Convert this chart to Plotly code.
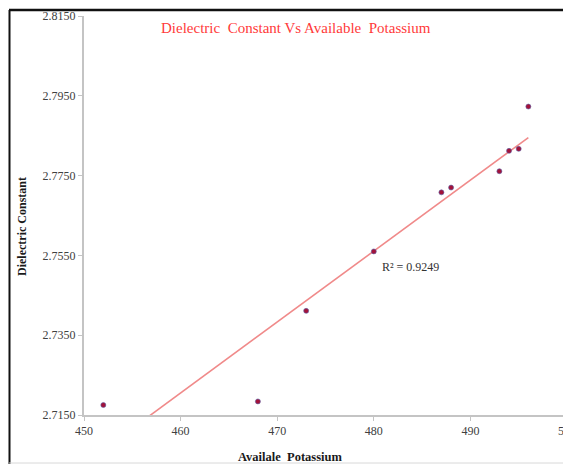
import numpy as np
import plotly.graph_objects as go

# Data
potassium = [452, 468, 473, 480, 487, 488, 493, 494, 495, 496]
dielectric = [2.7175, 2.7184, 2.7411, 2.7560, 2.7708, 2.7720, 2.7761, 2.7812, 2.7817, 2.7923]
x_ticks = [450, 460, 470, 480, 490, 500]
y_ticks = [2.7150, 2.7350, 2.7550, 2.7750, 2.7950, 2.8150]
title_text = "Dielectric\u00a0 Constant Vs Available\u00a0 Potassium"
x_title = "Availale\u00a0 Potassium"
y_title = "Dielectric Constant"
r2_label = "R² = 0.9249"

# Linear trendline (least squares fit of the data)
slope, intercept = np.polyfit(potassium, dielectric, 1)
tx = [min(potassium), max(potassium)]
ty = [slope * v + intercept for v in tx]

# The page body has an 8px margin, so the figure starts at (8, 8) in the window
OFF = 8
W, H = 571 - OFF, 466 - OFF
ml, mr, mt, mb = 84 - OFF, 4, 16 - OFF, 51
pw, ph = W - ml - mr, H - mt - mb

def px2paper_x(px):  # px in window coordinates
    return (px - OFF - ml) / pw

def px2paper_y(py):
    return (H - mb - (py - OFF)) / ph

serif = "Liberation Serif, Times New Roman, serif"

fig = go.Figure()
fig.add_trace(go.Scatter(
    x=tx, y=ty, mode="lines",
    line=dict(color="#f08a8a", width=1.6),
    hoverinfo="skip", showlegend=False,
))
fig.add_trace(go.Scatter(
    x=potassium, y=dielectric, mode="markers",
    marker=dict(size=5, color="#a3123a", line=dict(color="#5a63a8", width=0.6)),
    showlegend=False,
))

axis_common = dict(
    showgrid=False, zeroline=False,
    showline=True, linecolor="#c4c4c4", linewidth=2,
    ticks="outside", ticklen=4, tickcolor="#c4c4c4", tickwidth=1,
    tickfont=dict(family=serif, size=12, color="#404040"),
    ticklabeloverflow="allow", automargin=False,
)

fig.update_layout(
    width=W, height=H,
    margin=dict(l=ml, r=mr, t=mt, b=mb, pad=0, autoexpand=False),
    paper_bgcolor="white", plot_bgcolor="white",
    xaxis=dict(range=[450, 500], tickvals=x_ticks,
               ticktext=[str(v) for v in x_ticks], **axis_common),
    yaxis=dict(range=[2.7150, 2.8150], tickvals=y_ticks,
               ticktext=[f"{v:.4f}" for v in y_ticks], **axis_common),
    showlegend=False,
)

fig.add_annotation(
    text=title_text, xref="paper", yref="paper",
    x=px2paper_x(296), y=px2paper_y(28), xanchor="center", yanchor="middle",
    showarrow=False, font=dict(family=serif, size=15, color="#ff3a3a"),
)
fig.add_annotation(
    text=f"<b>{y_title}</b>", xref="paper", yref="paper",
    x=px2paper_x(22), y=px2paper_y(226), xanchor="center", yanchor="middle",
    textangle=-90, showarrow=False, font=dict(family=serif, size=12, color="#1a1a1a"),
)
fig.add_annotation(
    text=f"<b>{x_title}</b>", xref="paper", yref="paper",
    x=px2paper_x(290), y=px2paper_y(457), xanchor="center", yanchor="middle",
    showarrow=False, font=dict(family=serif, size=12.5, color="#1a1a1a"),
)
fig.add_annotation(
    text=r2_label, xref="x", yref="y",
    x=480.6, y=2.7521, xanchor="left", yanchor="middle",
    showarrow=False, font=dict(family=serif, size=12, color="#333333"),
)

# Outer chart frame
fig.add_shape(type="line", xref="paper", yref="paper",
              x0=px2paper_x(9.5), x1=px2paper_x(9.5), y0=px2paper_y(10), y1=px2paper_y(464),
              line=dict(color="#111111", width=2))
fig.add_shape(type="line", xref="paper", yref="paper",
              x0=px2paper_x(9), x1=px2paper_x(571), y0=px2paper_y(10), y1=px2paper_y(10),
              line=dict(color="#111111", width=2.5))
fig.add_shape(type="line", xref="paper", yref="paper",
              x0=px2paper_x(9), x1=px2paper_x(571), y0=px2paper_y(463), y1=px2paper_y(463),
              line=dict(color="#d8d8d8", width=1))

fig.write_html("out.html")
